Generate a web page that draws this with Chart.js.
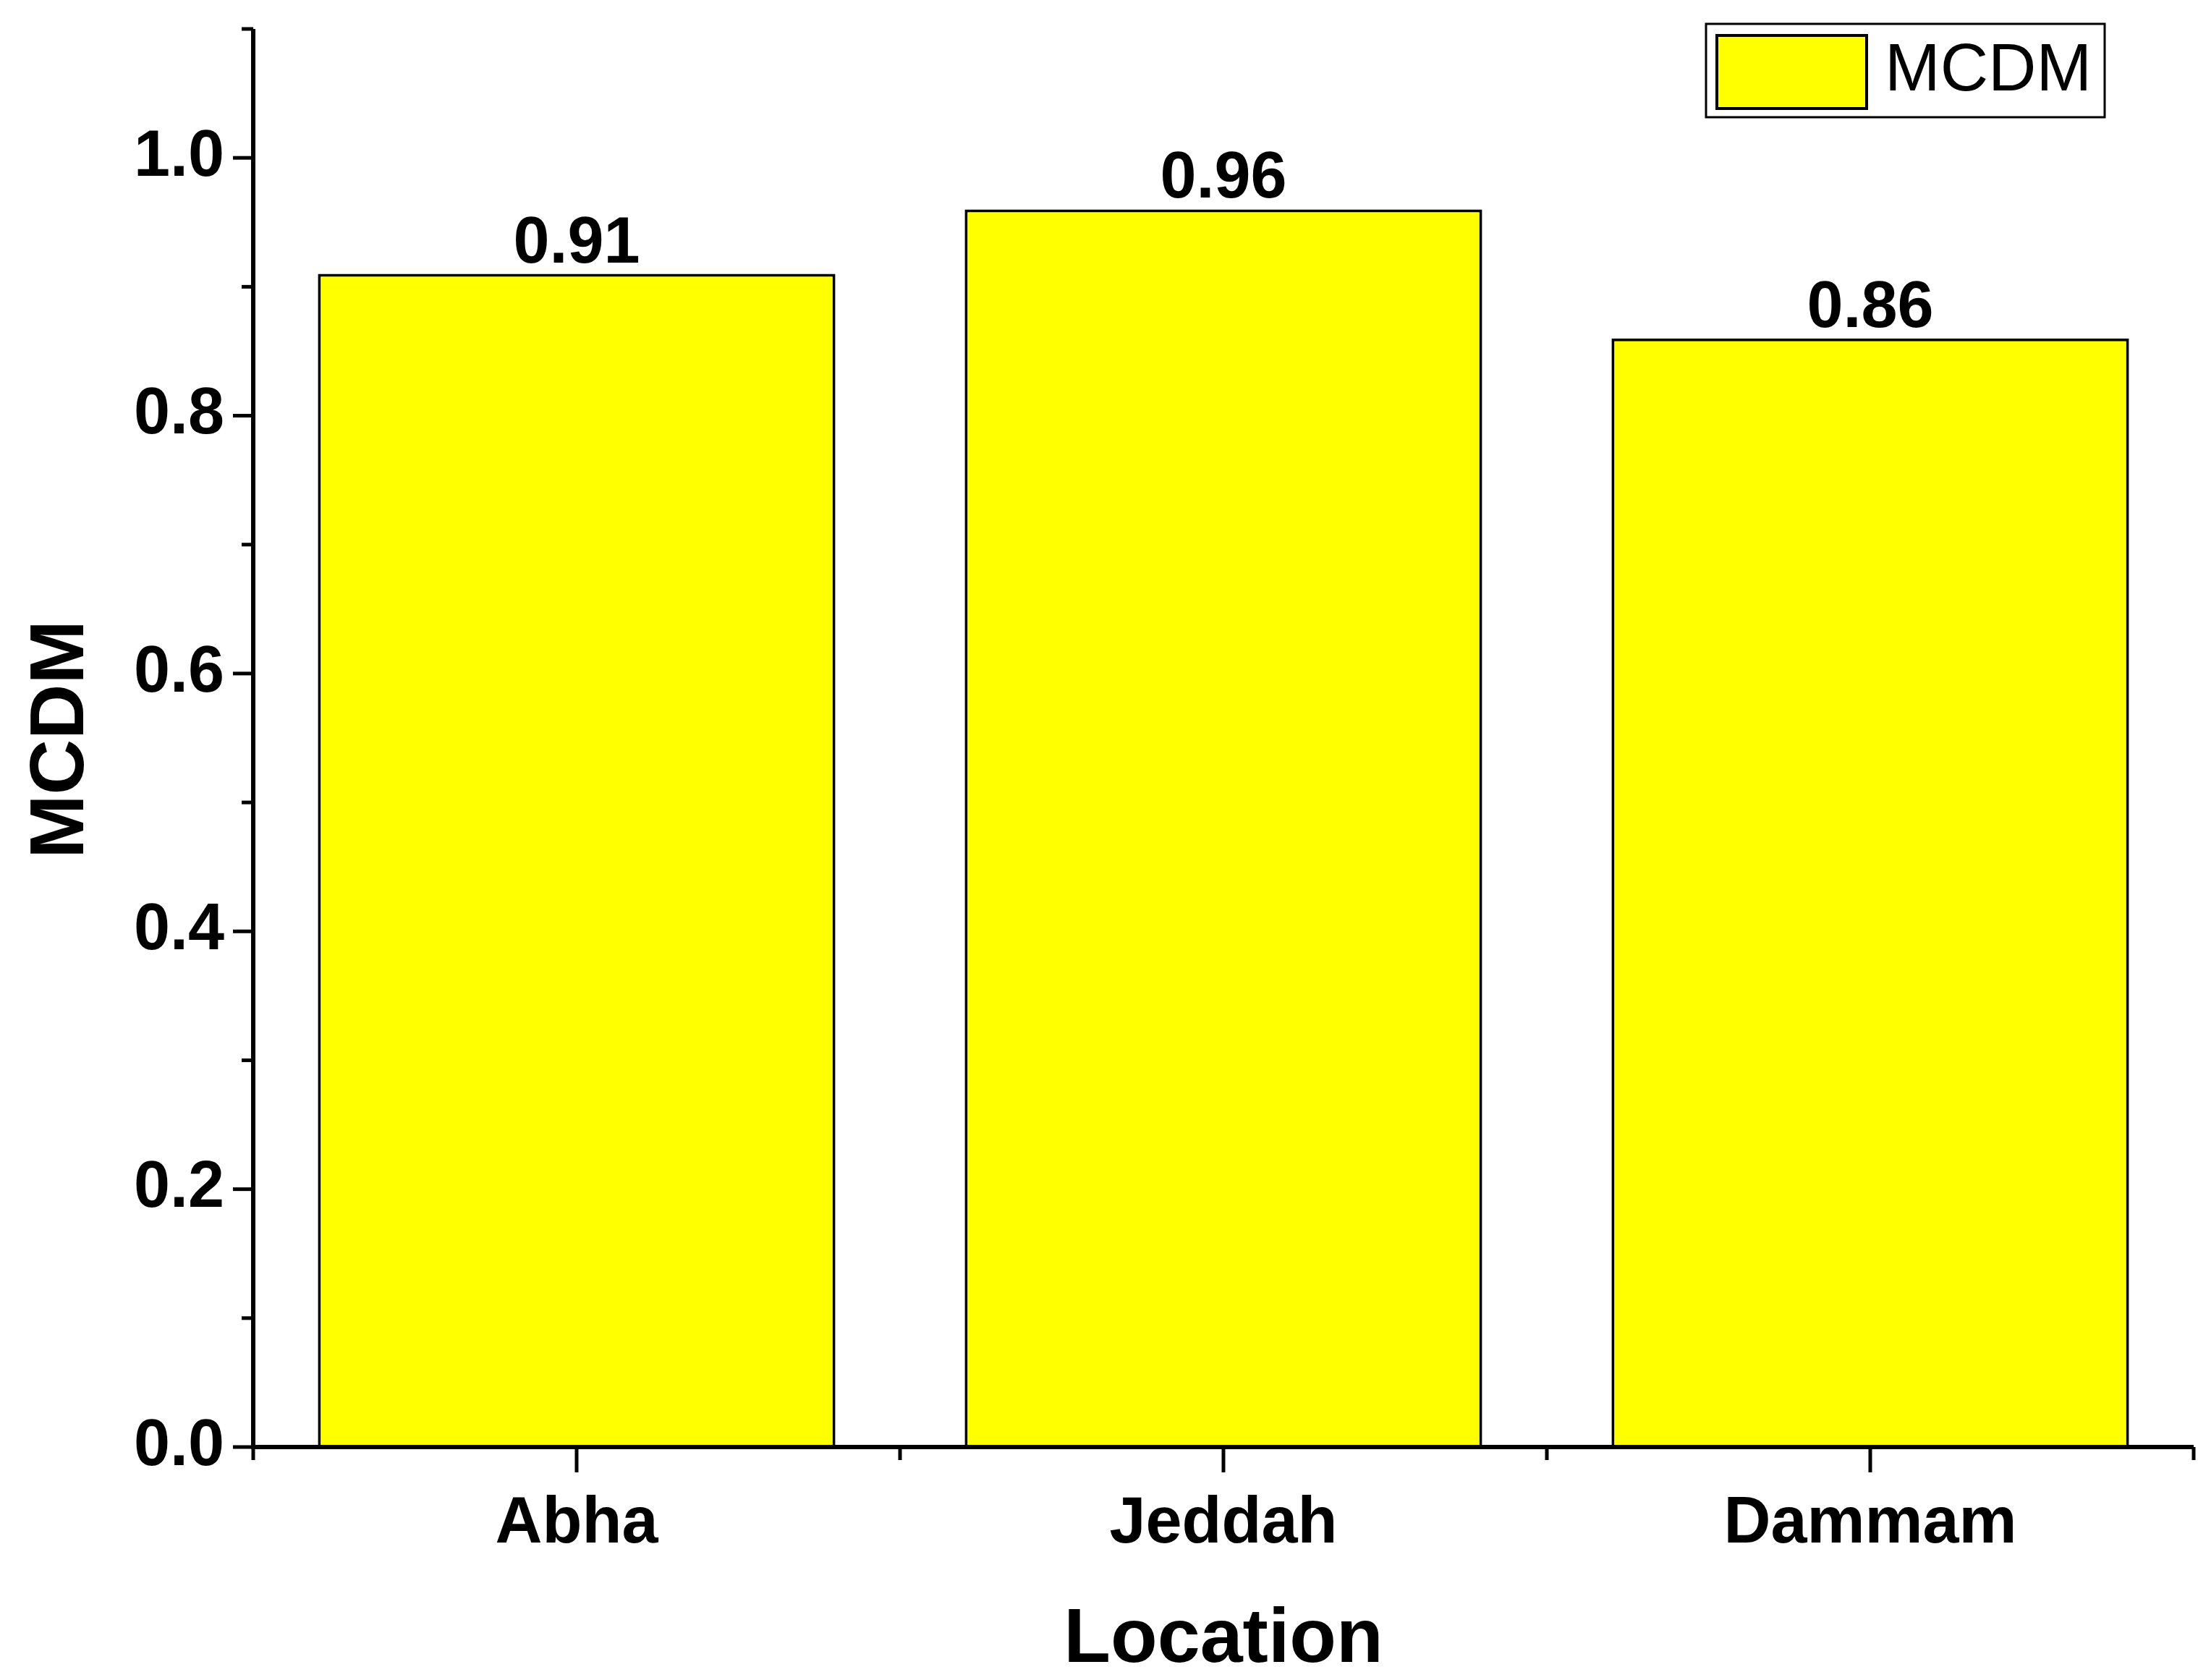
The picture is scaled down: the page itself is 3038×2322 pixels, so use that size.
<!DOCTYPE html>
<html><head><meta charset="utf-8">
<script src="https://cdn.jsdelivr.net/npm/chart.js@4/dist/chart.umd.min.js"></script>
<style>html,body{margin:0;padding:0;background:#fff}</style>
</head><body>
<canvas id="c" width="3038" height="2322" style="width:3038px;height:2322px"></canvas>
<script>
const categories = ["Abha", "Jeddah", "Dammam"];
const mcdmValues = [0.91, 0.96, 0.86];
const yTickLabels = ["0.0", "0.2", "0.4", "0.6", "0.8", "1.0"];
const seriesName = "MCDM";
const F = "'Liberation Sans', Arial, sans-serif";

const drawPlugin = {
  id: 'draw',
  afterDatasetsDraw(chart) {
    const ctx = chart.ctx, a = chart.chartArea, x = chart.scales.x, y = chart.scales.y;
    ctx.save();
    ctx.strokeStyle = '#000'; ctx.fillStyle = '#000';
    ctx.lineWidth = 6;
    ctx.beginPath();
    ctx.moveTo(a.left, a.top); ctx.lineTo(a.left, a.bottom); ctx.lineTo(a.right, a.bottom);
    ctx.stroke();
    ctx.lineWidth = 5;
    for (let i = 0; i <= 11; i++) {
      const v = i / 10, py = y.getPixelForValue(v);
      const len = i % 2 === 0 ? 28 : 16;
      ctx.beginPath(); ctx.moveTo(a.left, py); ctx.lineTo(a.left - len, py); ctx.stroke();
    }
    ctx.font = 'bold 90px ' + F; ctx.textAlign = 'right'; ctx.textBaseline = 'middle';
    yTickLabels.forEach(t => ctx.fillText(t, a.left - 40, y.getPixelForValue(parseFloat(t))));
    for (let i = 0; i < categories.length; i++) {
      const px = x.getPixelForValue(i);
      ctx.beginPath(); ctx.moveTo(px, a.bottom); ctx.lineTo(px, a.bottom + 35); ctx.stroke();
    }
    for (let i = -0.5; i <= categories.length - 0.5; i += 1) {
      const px = x.getPixelForValue(i);
      ctx.beginPath(); ctx.moveTo(px, a.bottom); ctx.lineTo(px, a.bottom + 18); ctx.stroke();
    }
    ctx.textAlign = 'center';
    categories.forEach((c, i) => ctx.fillText(c, x.getPixelForValue(i), 2107));
    ctx.textBaseline = 'alphabetic';
    mcdmValues.forEach((v, i) => ctx.fillText(v.toFixed(2), x.getPixelForValue(i), y.getPixelForValue(v) - 16));
    ctx.font = 'bold 106px ' + F; ctx.textBaseline = 'middle';
    ctx.fillText('Location', x.getPixelForValue(1), 2268);
    ctx.save(); ctx.translate(86, 1022); ctx.rotate(-Math.PI / 2); ctx.fillText(seriesName, 0, 0); ctx.restore();
    ctx.lineWidth = 3;
    ctx.strokeRect(2358, 33, 551, 129);
    ctx.fillStyle = '#ffff00'; ctx.fillRect(2373, 49, 207, 101);
    ctx.lineWidth = 4; ctx.strokeRect(2373, 49, 207, 101);
    ctx.fillStyle = '#000'; ctx.font = '92px ' + F; ctx.textAlign = 'left';
    ctx.fillText(seriesName, 2605, 100);
    ctx.restore();
  }
};

new Chart(document.getElementById('c'), {
  type: 'bar',
  data: { labels: categories, datasets: [{ label: seriesName, data: mcdmValues,
    backgroundColor: '#ffff00', borderColor: '#000', borderWidth: 4, borderSkipped: 'bottom',
    categoryPercentage: 1, barPercentage: 0.8 }] },
  options: {
    responsive: false, devicePixelRatio: 1, animation: false,
    layout: { padding: { left: 350, right: 6, top: 40, bottom: 322 } },
    plugins: { legend: { display: false }, tooltip: { enabled: false } },
    scales: {
      x: { display: false, offset: true },
      y: { display: false, min: 0, max: 1.1 }
    }
  },
  plugins: [drawPlugin]
});
</script>
</body></html>
